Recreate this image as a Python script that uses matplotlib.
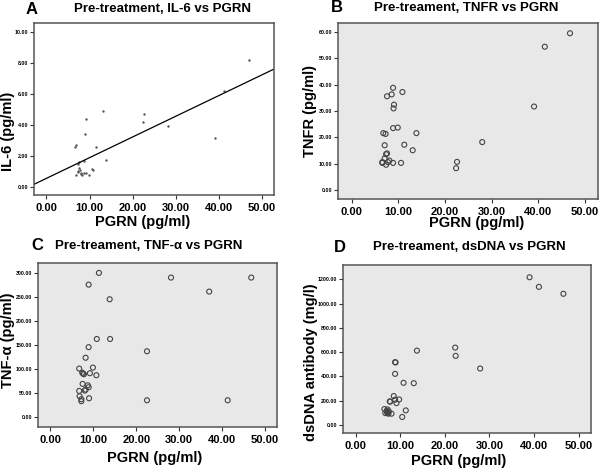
import numpy as np
import matplotlib
matplotlib.use('Agg')
import matplotlib.pyplot as plt

plt.rcParams['font.family'] = ['Liberation Sans', 'DejaVu Sans']

# --- data ---
# A: IL-6 vs PGRN
il6_x = [46.9, 41.2, 39.2, 28.1, 22.6, 22.4, 13.1, 13.9, 11.4, 9.2, 8.9, 6.9, 6.6,
         7.6, 7.3, 8.7, 7.5, 7.7, 7.3, 8.0, 8.3, 8.8, 9.2, 6.9, 9.9, 10.8, 10.6, 7.4, 8.1]
il6_y = [8.2, 6.2, 3.18, 3.9, 4.7, 4.2, 4.9, 1.73, 2.55, 4.4, 3.38, 2.73, 2.55,
         1.62, 1.5, 1.67, 1.23, 1.08, 0.97, 0.9, 0.78, 0.87, 0.87, 0.76, 0.76, 1.08, 1.17, 1.0, 0.8]
il6_fit = (0.54, 0.134)  # intercept, slope of the drawn regression line

# B: TNFR vs PGRN
tnfr_x = [46.8, 41.4, 39.1, 28.0, 22.6, 22.4, 13.9, 13.1, 11.3, 10.9, 10.6, 9.9, 8.9, 8.6, 9.1,
          9.0, 8.9, 7.6, 6.8, 7.3, 7.1, 7.6, 7.4, 8.9, 8.1, 7.8, 7.4, 7.1, 6.6, 6.6]
tnfr_y = [59.5, 54.4, 31.7, 18.2, 10.7, 8.3, 21.6, 15.1, 17.2, 37.2, 10.3, 23.7, 38.8, 36.3, 32.4,
          31.0, 23.5, 35.6, 21.6, 21.3, 17.0, 13.9, 13.6, 10.3, 11.2, 10.6, 9.6, 12.0, 10.6, 10.3]

# C: TNF-alpha vs PGRN
tnfa_x = [11.3, 28.1, 46.8, 8.9, 37.0, 13.8, 10.8, 13.9, 8.9, 22.5, 22.5, 41.3, 8.2, 6.7, 9.9,
          7.4, 7.8, 9.2, 10.7, 7.5, 8.7, 8.9, 8.2, 8.0, 6.7, 6.8, 7.2, 7.2, 9.0, 7.6]
tnfa_y = [299.4, 289.7, 289.7, 275.0, 260.6, 244.6, 162.0, 162.0, 145.0, 136.5, 34.6, 34.6, 123.0, 100.5, 102.6,
          92.0, 88.7, 90.8, 86.6, 68.6, 65.8, 61.7, 56.8, 54.7, 54.0, 43.0, 36.7, 32.6, 38.8, 90.0]

# D: dsDNA antibody vs PGRN
dsdna_x = [39.0, 41.1, 46.6, 22.3, 22.4, 13.7, 27.9, 8.8, 8.9, 8.8, 10.7, 13.0, 8.5, 8.8, 9.7,
           9.1, 7.6, 7.7, 11.2, 10.4, 8.0, 6.4, 7.1, 6.6, 7.1, 7.4, 6.9, 7.3, 7.0]
dsdna_y = [1216, 1137, 1080, 637, 569, 612, 465, 517, 515, 421, 347, 344, 238, 208, 210,
           180, 194, 192, 120, 66, 93, 131, 128, 98, 98, 112, 115, 93, 105]

x_ticks = [0, 10, 20, 30, 40, 50]
xlim = (-2.9, 52.8)

W, H = 600, 468
fig = plt.figure(figsize=(6, 4.68), dpi=100)


def px_axes(l, t, r, b):
    return fig.add_axes([l / W, 1 - b / H, (r - l) / W, (b - t) / H])


def style(ax, yticks, ylim, bg):
    ax.set_facecolor(bg)
    ax.set_xlim(xlim)
    ax.set_ylim(ylim)
    ax.set_xticks(x_ticks)
    ax.set_xticklabels(['%.2f' % v for v in x_ticks], fontsize=8, fontweight='bold')
    ax.set_yticks(yticks)
    ax.set_yticklabels(['%.2f' % v for v in yticks], fontsize=3.8, fontweight='bold')
    ax.tick_params(axis='x', length=3, width=0.8, pad=3, color='#333333')
    ax.tick_params(axis='y', length=3, width=0.8, pad=1, color='#333333')
    for s in ax.spines.values():
        s.set_color('#555555')
        s.set_linewidth(1.1)


def labels(ax, xl, yl, xpos, ypos):
    ax.set_xlabel(xl, fontsize=10.5, fontweight='bold')
    ax.set_ylabel(yl, fontsize=10.5, fontweight='bold')
    ax.xaxis.set_label_coords(*xpos)
    ax.yaxis.set_label_coords(*ypos)


def heading(letter, lx, title, tx, y):
    fig.text(lx / W, 1 - y / H, letter, fontsize=12, fontweight='bold', ha='center', va='center')
    fig.text(tx / W, 1 - y / H, title, fontsize=9.5, fontweight='bold', ha='center', va='center')


bg = '#e8e8e8'
circ = dict(s=13, facecolors='none', edgecolors='#444444', linewidths=0.8)

# A
axA = px_axes(34, 23, 274, 195)
axA.scatter(il6_x, il6_y, s=3, color='#555555', linewidths=0)
axA.axline((0, il6_fit[0]), slope=il6_fit[1], color='black', lw=0.9)
style(axA, [0, 2, 4, 6, 8, 10], (-0.54, 10.6), 'white')
labels(axA, 'PGRN (pg/ml)', 'IL-6 (pg/ml)', (0.454, -0.116), (-0.079, 0.37))
heading('A', 32, 'Pre-treatment, IL-6 vs PGRN', 162, 9)

# B
axB = px_axes(338, 23, 598, 199)
axB.scatter(tnfr_x, tnfr_y, **circ)
style(axB, [0, 10, 20, 30, 40, 50, 60], (-3.4, 63.4), bg)
labels(axB, 'PGRN (pg/ml)', 'TNFR (pg/ml)', (0.535, -0.097), (-0.081, 0.5))
heading('B', 337, 'Pre-treament, TNFR vs PGRN', 466, 8)

# C
axC = px_axes(38, 263, 277, 427)
axC.scatter(tnfa_x, tnfa_y, **circ)
style(axC, [0, 50, 100, 150, 200, 250, 300], (-21, 320), bg)
labels(axC, 'PGRN (pg/ml)', 'TNF-α (pg/ml)', (0.49, -0.146), (-0.096, 0.53))
heading('C', 37, 'Pre-treament, TNF-α vs PGRN', 149, 246)

# D
axD = px_axes(343, 265, 591, 433)
axD.scatter(dsdna_x, dsdna_y, **circ)
style(axD, [0, 200, 400, 600, 800, 1000, 1200], (-66, 1317), bg)
labels(axD, 'PGRN (pg/ml)', 'dsDNA antibody (mg/l)', (0.466, -0.125), (-0.10, 0.42))
heading('D', 340, 'Pre-treament, dsDNA vs PGRN', 469, 247)

fig.savefig('out.png', dpi=100)
